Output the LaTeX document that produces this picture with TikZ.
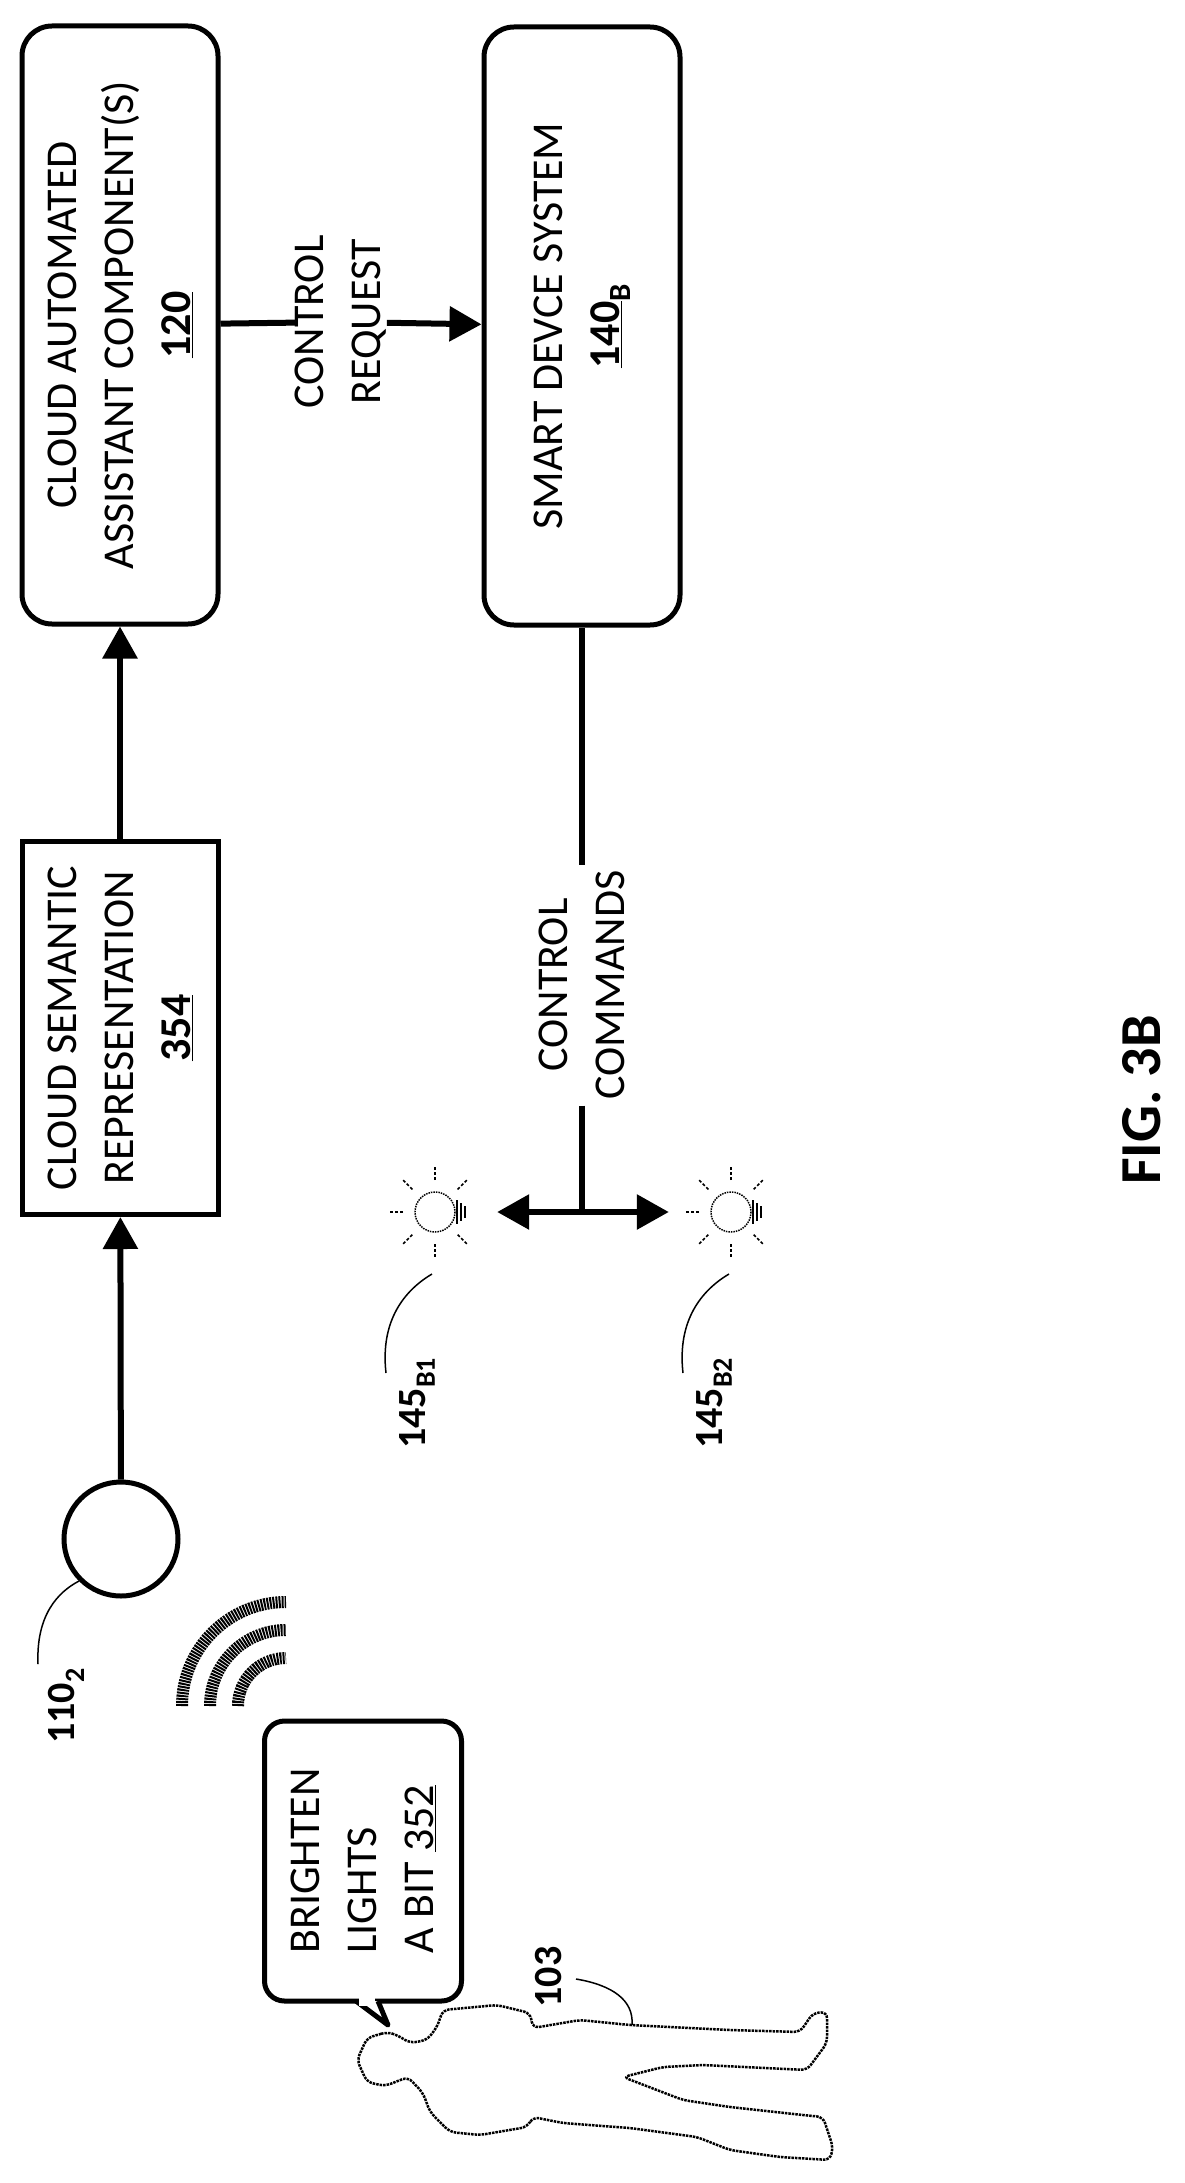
\documentclass[tikz,border=0pt]{standalone}
\usepackage{fontspec}
\setmainfont{Carlito}
\usetikzlibrary{arrows.meta}
\tikzset{
  box/.style={draw, line width=5pt, rotate=90, minimum width=598pt, minimum height=196pt, align=center, font=\fontsize{44}{57}\selectfont},
  lbl/.style={rotate=90, align=center, inner sep=0pt, font=\fontsize{44}{57}\selectfont},
  ref/.style={rotate=90, inner sep=0pt, font=\fontsize{40}{48}\selectfont\bfseries},
  arr/.style={line width=6pt, -{Triangle[length=32pt,width=34pt]}},
  lead/.style={line width=1.5pt},
}
\newcommand\lamp[1]{%
  \draw[line width=1.5pt, densely dotted] (#1) circle (20);
  \foreach \dx/\dy in {22/12,26/9,30/6} {\draw[line width=1.5pt] ($(#1)+(\dx,-\dy)$) -- ($(#1)+(\dx,\dy)$);}
  \foreach \a in {45,90,135,180,225,270,315} {\draw[line width=1.5pt, densely dashed] ($(#1)+(\a:32)$) -- ($(#1)+(\a:46)$);}
}
\usetikzlibrary{calc}
\begin{document}
\begin{tikzpicture}[x=1pt, y=-1pt]
  \useasboundingbox (0,0) rectangle (1184,2183);
  % boxes
  \node [box, rounded corners=30pt] (cloud) at (120,325) {CLOUD AUTOMATED\\ASSISTANT COMPONENT(S)\\\textbf{\underline{120}}};
  \node [box, rounded corners=30pt] (smart) at (582,326) {SMART DEVCE SYSTEM\\\textbf{\underline{140}\textsubscript{B}}};
  \node [box, minimum width=373pt] (sem) at (120,1028) {CLOUD SEMANTIC\\REPRESENTATION\\\textbf{\underline{354}}};
  \node [circle, draw, line width=5pt, minimum size=114pt] (dev) at (121,1539) {};
  % labels
  \node [lbl] (req) at (341,322) {CONTROL\\REQUEST};
  \node [lbl, inner ysep=0pt, inner xsep=6pt] (cmd) at (582,985) {CONTROL\\COMMANDS};
  \coordinate (junc) at (582,1212);
  \node [circle, minimum size=124pt, inner sep=0pt] (b1) at (435,1212) {};
  \node [circle, minimum size=124pt, inner sep=0pt] (b2) at (731,1212) {};
  \lamp{b1} \lamp{b2}
  % connectors
  \draw [arr] (dev) -- (sem);
  \draw [arr] (sem) -- (cloud);
  \draw [line width=6pt] (cloud) -- (req);
  \draw [arr] (req) -- (smart);
  \draw [line width=6pt] (smart) -- (cmd);
  \draw [line width=6pt] (cmd) -- (junc);
  \draw [arr] (junc) -- (b1);
  \draw [arr] (junc) -- (b2);
  % reference numbers
  \node [ref] (l110) at (66,1706) {110\textsubscript{2}};
  \node [ref] (l145a) at (417,1403) {145\textsubscript{B1}};
  \node [ref] (l145b) at (714,1403) {145\textsubscript{B2}};
  \node [ref] (l103) at (549,1977) {103};
  \coordinate (e110) at (38,1664);
  \coordinate (e145a) at (386,1373);
  \coordinate (e145b) at (683,1373);
  \coordinate (e103) at (576,1979);
  \coordinate (p103) at (632,2025);
  \draw [lead] (e110) .. controls (36,1615) and (58,1592) .. (dev.south west);
  \draw [lead] (e145a) .. controls (380,1320) and (405,1290) .. (432,1274);
  \draw [lead] (e145b) .. controls (677,1320) and (702,1290) .. (729,1274);
  \draw [lead] (e103) .. controls (612,1985) and (634,2000) .. (p103);
  % sound waves
  \foreach \r in {48,76,104}
    \draw [line width=12pt, dash pattern=on 2pt off 1pt] (286-\r,1706) arc (180:270:\r);
  % speech bubble
  \node [draw, line width=5pt, rounded corners=20pt, rotate=90, minimum width=280pt, minimum height=197pt, align=left, font=\fontsize{44}{57}\selectfont] (say) at (363,1861) {BRIGHTEN\\LIGHTS\\A BIT \underline{352}};
  \coordinate (tl) at (356,2001);
  \coordinate (tr) at (378,2001);
  \coordinate (tip) at (388,2025);
  \filldraw [fill=white, line width=5pt, line join=round] (tl) -- (tip) -- (tr);
  \fill [white] (359,1996) rectangle (375,2006);
  % person
  \draw [line width=2.5pt, densely dotted, rounded corners=6pt] (387,2032) -- (367,2038) -- (357,2060) -- (367,2082) -- (385,2086) -- (408,2077) -- (423,2093) -- (430,2112) -- (450,2132) -- (480,2135) -- (527,2127) -- (533,2117) -- (563,2123) -- (630,2128) -- (697,2137) -- (730,2150) -- (780,2157) -- (830,2160) -- (833,2147) -- (823,2117) -- (803,2115) -- (730,2107) -- (683,2100) -- (623,2077) -- (663,2067) -- (703,2065) -- (807,2070) -- (827,2043) -- (827,2012) -- (813,2013) -- (800,2032) -- (730,2030) -- (630,2025) -- (580,2020) -- (533,2028) -- (530,2013) -- (497,2005) -- (443,2010) -- (437,2027) -- (427,2040) -- (410,2043) -- (397,2035) -- cycle;
  % figure label
  \node [rotate=90, font=\fontsize{58}{60}\selectfont\bfseries] (fig) at (1142,1100) {FIG. 3B};
\end{tikzpicture}
\end{document}
